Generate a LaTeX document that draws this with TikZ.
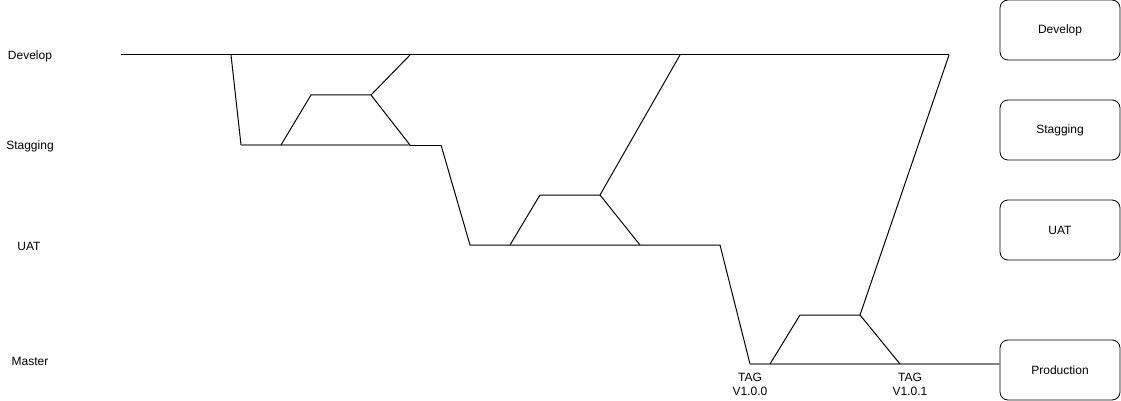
\documentclass[tikz,border=0pt]{standalone}
\usepackage{fontspec}
\setmainfont{Liberation Sans}
\begin{document}
\begin{tikzpicture}[x=1pt,y=-1pt,
  lbl/.style={font=\fontsize{12}{14}\selectfont, inner sep=0pt, align=center},
  envbox/.style={draw, rounded corners=8pt, minimum width=120pt, minimum height=60pt, line width=0.8pt, font=\fontsize{12}{14}\selectfont, inner sep=0pt},
  br/.style={line width=1pt, line join=miter},
  mainln/.style={line width=1.5pt, draw=black!50}
]
\useasboundingbox (0,0) rectangle (1121,401);
% left labels
\node[lbl] (lDev) at (30,56) {Develop};
\node[lbl] (lStg) at (30,146) {Stagging};
\node[lbl] (lUat) at (29,246) {UAT};
\node[lbl] (lMas) at (30,361) {Master};
% right boxes
\node[envbox] (bDev) at (1060,30) {Develop};
\node[envbox] (bStg) at (1060,130) {Stagging};
\node[envbox] (bUat) at (1060,230) {UAT};
\node[envbox] (bProd) at (1060,370) {Production};
% coordinates
\coordinate (d0) at (121,55);
\coordinate (d1) at (231,55);
\coordinate (d2) at (410,55);
\coordinate (d3) at (680,55);
\coordinate (d4) at (949,55);
\coordinate (s0) at (241,145);
\coordinate (s1) at (281,145);
\coordinate (s2) at (410,145);
\coordinate (s3) at (441,145);
\coordinate (f1a) at (311,95);
\coordinate (f1b) at (371,95);
\coordinate (u0) at (470,245);
\coordinate (u1) at (510,245);
\coordinate (u2) at (640,245);
\coordinate (u3) at (720,245);
\coordinate (f2a) at (540,195);
\coordinate (f2b) at (600,195);
\coordinate (m0) at (750,364);
\coordinate (m1) at (770,364);
\coordinate (m2) at (900,364);
\coordinate (m3) at (1000,364);
\coordinate (f3a) at (800,315);
\coordinate (f3b) at (860,315);
% develop line
\draw[br] (d0) -- (d4);
% develop -> stagging
\draw[br] (d1) -- (s0);
\draw[mainln] (s0) -- (s2);
\draw[br] (s2) -- (s3);
% feature 1
\draw[br] (s1) -- (f1a) -- (f1b) -- (s2);
\draw[br] (f1b) -- (d2);
% stagging -> uat
\draw[br] (s3) -- (u0) -- (u3);
% feature 2
\draw[br] (u1) -- (f2a) -- (f2b) -- (u2);
\draw[br] (f2b) -- (d3);
% uat -> master
\draw[br] (u3) -- (m0);
\draw[mainln] (m0) -- (bProd.west |- m3);
% feature 3
\draw[br] (m1) -- (f3a) -- (f3b) -- (m2);
\draw[br] (f3b) -- (d4);
% tags
\node[lbl, anchor=north] (t1) at (750,373) {TAG\\V1.0.0};
\node[lbl, anchor=north] (t2) at (910,373) {TAG\\V1.0.1};
\end{tikzpicture}
\end{document}
